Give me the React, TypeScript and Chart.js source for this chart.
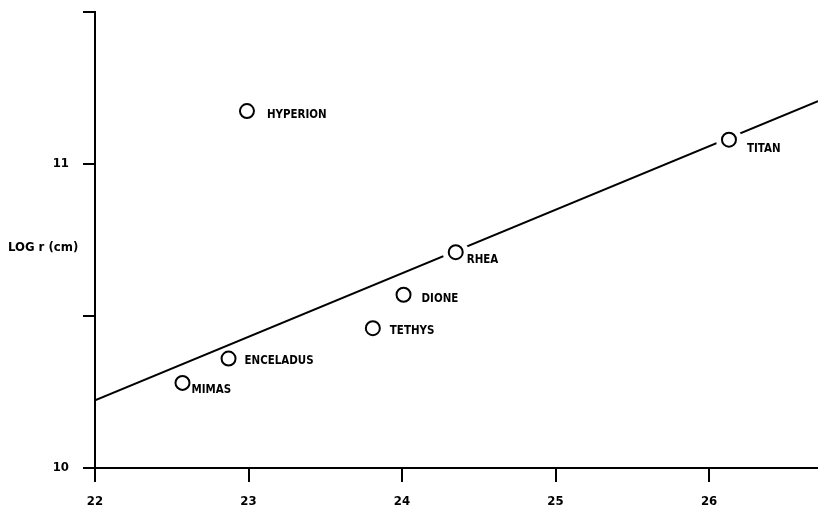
import React, { useEffect, useRef } from "react";
import { Chart, registerables } from "chart.js";

Chart.register(...registerables);

// Data
const moonNames = ["HYPERION", "ENCELADUS", "MIMAS", "RHEA", "DIONE", "TETHYS", "TITAN"];
const moonX = [22.99, 22.87, 22.57, 24.35, 24.01, 23.81, 26.13];
const moonY = [11.174, 10.36, 10.28, 10.71, 10.57, 10.46, 11.08];
const fitLineX = [22, 26.71];
const fitLineY = [10.223, 11.207];
const xTickValues = [22, 23, 24, 25, 26];
const yTickValues = [10, 10.5, 11, 11.5];
const yLabelledTicks = [10, 11];
const yAxisTitle = "LOG r (cm)";

// Styling for labels (offsets from point centre, px)
const labelDx = [20, 16, 9, 11, 18, 17, 18];
const labelDy = [4, 2, 7, 7, 4, 2, 9];
const haloMoons = ["RHEA", "TITAN"];

const FONT = '"DejaVu Sans Condensed", sans-serif';

export default function App() {
  const ref = useRef<HTMLCanvasElement | null>(null);

  useEffect(() => {
    document.body.style.margin = "0";
    const canvas = ref.current;
    if (!canvas) return;

    const labelPlugin = {
      id: "moonLabels",
      afterDatasetsDraw(chart: any) {
        const ctx = chart.ctx;
        const xs = chart.scales.x;
        const ys = chart.scales.y;
        ctx.save();
        ctx.fillStyle = "#000";
        ctx.font = `bold 13px ${FONT}`;
        ctx.textAlign = "left";
        ctx.textBaseline = "middle";
        moonNames.forEach((name, i) => {
          const px = xs.getPixelForValue(moonX[i]);
          const py = ys.getPixelForValue(moonY[i]);
          ctx.save();
          ctx.translate(px + labelDx[i], py + labelDy[i]);
          ctx.scale(0.88, 1);
          ctx.fillText(name, 0, 0);
          ctx.restore();
        });
        ctx.fillText(yAxisTitle, 8, 248);
        ctx.restore();
      },
    };

    const chart = new Chart(canvas, {
      type: "scatter",
      data: {
        datasets: [
          {
            label: "moons",
            data: moonX.map((x, i) => ({ x, y: moonY[i] })),
            pointRadius: 7,
            pointBorderWidth: 2,
            borderColor: "#000",
            backgroundColor: "#fff",
            pointHoverRadius: 7,
          },
          {
            label: "halo",
            data: moonX
              .map((x, i) => ({ x, y: moonY[i], n: moonNames[i] }))
              .filter((d) => haloMoons.includes(d.n)),
            pointRadius: 13,
            pointBorderWidth: 0,
            borderColor: "#fff",
            backgroundColor: "#fff",
          },
          {
            label: "fit",
            data: fitLineX.map((x, i) => ({ x, y: fitLineY[i] })),
            showLine: true,
            pointRadius: 0,
            borderWidth: 2,
            borderColor: "#000",
            backgroundColor: "#000",
          } as any,
        ],
      },
      options: {
        animation: false,
        responsive: false,
        devicePixelRatio: 1,
        layout: { autoPadding: false, padding: { top: 12, right: 0, left: 0, bottom: 0 } },
        plugins: {
          legend: { display: false },
          tooltip: { enabled: false },
        },
        scales: {
          x: {
            type: "linear",
            min: 22,
            max: 26.71,
            afterBuildTicks: (scale: any) => {
              scale.ticks = xTickValues.map((v) => ({ value: v }));
            },
            afterFit: (scale: any) => {
              scale.height = 47;
              scale.paddingLeft = 0;
              scale.paddingRight = 0;
            },
            ticks: {
              color: "#000",
              font: { family: FONT, size: 13, weight: "bold" },
              padding: 12,
              maxRotation: 0,
              callback: (v: any) => String(v),
            },
            grid: {
              drawOnChartArea: false,
              drawTicks: true,
              tickLength: 14,
              lineWidth: 2,
              color: "#000",
            },
            border: { display: true, width: 2, color: "#000" },
          },
          y: {
            type: "linear",
            min: 10,
            max: 11.5,
            afterBuildTicks: (scale: any) => {
              scale.ticks = yTickValues.map((v) => ({ value: v }));
            },
            afterFit: (scale: any) => {
              scale.width = 95;
              scale.paddingTop = 0;
              scale.paddingBottom = 0;
            },
            ticks: {
              color: "#000",
              font: { family: FONT, size: 13, weight: "bold" },
              padding: 14,
              callback: (v: any) => (yLabelledTicks.includes(Number(v)) ? String(v) : ""),
            },
            grid: {
              drawOnChartArea: false,
              drawTicks: true,
              tickLength: 12,
              lineWidth: 2,
              color: "#000",
            },
            border: { display: true, width: 2, color: "#000" },
          },
        },
      },
      plugins: [labelPlugin],
    });

    return () => chart.destroy();
  }, []);

  return (
    <div style={{ width: 818, height: 515, overflow: "hidden" }}>
      <canvas ref={ref} width={818} height={515} style={{ display: "block" }} />
    </div>
  );
}
